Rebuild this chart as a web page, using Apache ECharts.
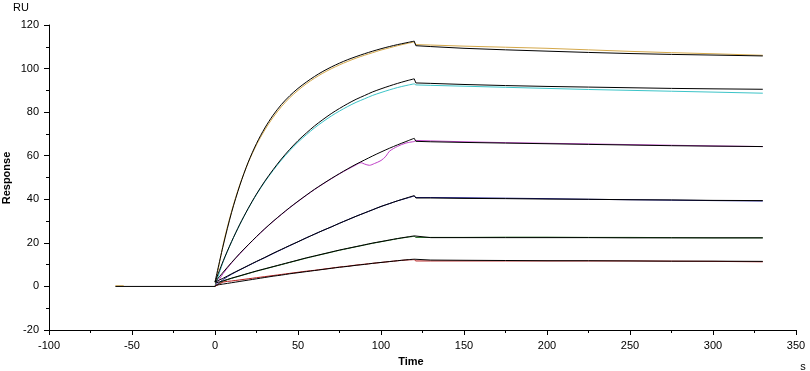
<!DOCTYPE html>
<html><head><meta charset="utf-8">
<script src="https://cdn.jsdelivr.net/npm/echarts@6/dist/echarts.min.js"></script>
<style>html,body{margin:0;padding:0;background:#fff}#c{width:810px;height:371px}</style>
</head><body><div id="c"></div>
<script>
// Axis ticks
const xTicks = [-100, -50, 0, 50, 100, 150, 200, 250, 300, 350];
const yTicks = [-20, 0, 20, 40, 60, 80, 100, 120];

// Baseline (s, RU)
const baseT = [-60, 0];
const baseV = [0, 0];
const baseYellowT = [-60, -55];
const baseYellowV = [0.3, 0.3];

// Association phase times (s)
const tA = [0, 5, 10, 15, 20, 25, 30, 35, 40, 45, 50, 55, 60, 65, 70, 75, 80, 85, 90, 95, 100, 105, 110, 115, 120];
// Dissociation phase times (s)
const tD = [121, 130, 150, 175, 200, 225, 250, 275, 300, 330];

// Curve 1 (gold)
const c1DataA = [0, 19.5, 34.5, 46.8, 56.8, 65, 71.8, 77.6, 82.5, 86.6, 90, 93, 95.6, 97.9, 99.9, 101.7, 103.3, 104.8, 106.1, 107.3, 108.5, 109.5, 110.5, 111.4, 112.2];
const c1FitA  = [2, 19, 34, 46.5, 57, 65.6, 72.7, 78.6, 83.5, 87.5, 90.9, 93.8, 96.4, 98.7, 100.7, 102.5, 104.1, 105.5, 106.8, 108, 109.1, 110.1, 111, 111.8, 112.6];
const c1DataD = [111, 110.8, 110.3, 109.8, 109.3, 108.6, 107.9, 107.3, 106.8, 106.1];
const c1FitD  = [110.5, 110.1, 109.3, 108.6, 108, 107.4, 106.9, 106.5, 106.2, 105.8];

// Curve 2 (cyan)
const c2DataA = [0, 11.5, 20.5, 28.5, 35.7, 42.2, 48, 53.2, 58, 62.3, 66.2, 69.6, 72.8, 75.6, 78.2, 80.5, 82.6, 84.5, 86.1, 87.7, 89, 90.2, 91.3, 92.2, 93];
const c2FitA  = [2, 11.8, 20.6, 28.6, 35.8, 42.4, 48.3, 53.6, 58.5, 62.9, 66.9, 70.4, 73.7, 76.6, 79.3, 81.7, 83.9, 85.9, 87.6, 89.3, 90.7, 92, 93.2, 94.3, 95.3];
const c2DataD = [92.5, 92.3, 91.9, 91.4, 90.9, 90.4, 90, 89.6, 89.2, 88.7];
const c2FitD  = [93.4, 93.2, 92.7, 92.2, 91.8, 91.5, 91.2, 90.9, 90.7, 90.5];

// Curve 3 (magenta) - data has its own time points
const c3DataT = [0, 5, 10, 15, 20, 25, 30, 35, 40, 45, 50, 55, 60, 65, 70, 75, 80, 85, 88, 90, 93, 96, 100, 103, 105, 110, 115, 120];
const c3DataA = [0, 6, 10.8, 15, 19, 22.8, 26.4, 29.8, 33, 36.1, 39, 41.8, 44.5, 47, 49.4, 51.7, 53.8, 55.8, 56.8, 56.2, 55.6, 56.4, 57.8, 59.8, 62, 64.3, 65.8, 66.5];
const c3FitA  = [2, 6.6, 11, 15.2, 19.1, 22.9, 26.5, 29.9, 33.1, 36.2, 39.1, 41.9, 44.6, 47.1, 49.5, 51.8, 54, 56.1, 58, 59.9, 61.7, 63.4, 65, 66.5, 68];
const c3DataD = [67, 66.8, 66.4, 66, 65.7, 65.4, 65.1, 64.8, 64.5, 64.2];
const c3FitD  = [66.6, 66.4, 66.1, 65.8, 65.5, 65.2, 64.9, 64.6, 64.4, 64.2];

// Curve 4 (navy)
const c4DataA = [0, 3.2, 5.6, 7.6, 9.5, 11.4, 13.2, 15.1, 16.9, 18.7, 20.5, 22.3, 24, 25.7, 27.3, 29, 30.6, 32.2, 33.7, 35.2, 36.7, 38, 39.3, 40.4, 41.5];
const c4FitA  = [2, 3.8, 5.8, 7.7, 9.6, 11.5, 13.3, 15.2, 17, 18.8, 20.5, 22.3, 24, 25.7, 27.3, 29, 30.6, 32.2, 33.7, 35.2, 36.7, 38, 39.3, 40.5, 41.7];
const c4DataD = [40.8, 40.8, 40.7, 40.5, 40.3, 40, 39.8, 39.6, 39.4, 39.2];
const c4FitD  = [40.6, 40.6, 40.4, 40.3, 40.1, 40, 39.8, 39.7, 39.5, 39.4];

// Curve 5 (green)
const c5DataA = [0, 2.4, 3.7, 4.8, 5.9, 7, 8, 9, 10, 11, 12, 13, 13.9, 14.8, 15.7, 16.6, 17.4, 18.2, 19, 19.8, 20.5, 21.2, 21.9, 22.5, 23];
const c5FitA  = [1.5, 2.6, 3.8, 4.9, 6, 7.1, 8.1, 9.1, 10.1, 11.1, 12.1, 13.1, 14, 14.9, 15.8, 16.7, 17.5, 18.3, 19.1, 19.9, 20.6, 21.3, 22, 22.6, 23.2];
const c5DataD = [22.5, 22.5, 22.5, 22.6, 22.6, 22.5, 22.5, 22.4, 22.3, 22.3];
const c5FitD  = [22.4, 22.4, 22.4, 22.4, 22.4, 22.4, 22.3, 22.3, 22.3, 22.3];

// Curve 6 (red)
const c6DataA = [0, 2, 2.5, 3, 3.5, 4, 4.5, 5, 5.5, 6, 6.5, 7, 7.4, 7.9, 8.4, 8.9, 9.3, 9.8, 10.2, 10.6, 11, 11.4, 11.8, 12.1, 12.3];
const c6FitA  = [0.5, 1.1, 1.7, 2.3, 2.9, 3.5, 4.1, 4.7, 5.2, 5.8, 6.3, 6.8, 7.3, 7.8, 8.3, 8.8, 9.2, 9.7, 10.1, 10.6, 11, 11.4, 11.8, 12.2, 12.5];
const c6DataD = [11.7, 11.7, 11.7, 11.7, 11.7, 11.7, 11.7, 11.6, 11.5, 11.3];
const c6FitD  = [12.1, 12.1, 12, 11.9, 11.8, 11.8, 11.7, 11.6, 11.6, 11.5];

const colors = ['#D4A84A', '#3CC4C8', '#C040C8', '#1A1A8C', '#1E6B1E', '#B41A1A'];

function pairs(t, v) { return t.map((x, i) => [x, v[i]]); }

const curves = [
  {color: colors[0], dA: pairs(tA, c1DataA), fA: pairs(tA, c1FitA), dD: pairs(tD, c1DataD), fD: pairs(tD, c1FitD)},
  {color: colors[1], dA: pairs(tA, c2DataA), fA: pairs(tA, c2FitA), dD: pairs(tD, c2DataD), fD: pairs(tD, c2FitD)},
  {color: colors[2], dA: pairs(c3DataT, c3DataA), fA: pairs(tA, c3FitA), dD: pairs(tD, c3DataD), fD: pairs(tD, c3FitD)},
  {color: colors[3], dA: pairs(tA, c4DataA), fA: pairs(tA, c4FitA), dD: pairs(tD, c4DataD), fD: pairs(tD, c4FitD)},
  {color: colors[4], dA: pairs(tA, c5DataA), fA: pairs(tA, c5FitA), dD: pairs(tD, c5DataD), fD: pairs(tD, c5FitD)},
  {color: colors[5], dA: pairs(tA, c6DataA), fA: pairs(tA, c6FitA), dD: pairs(tD, c6DataD), fD: pairs(tD, c6FitD)}
];

function line(data, color, smooth) {
  return {type: 'line', data: data, symbol: 'none', smooth: smooth ? 0.3 : false,
    lineStyle: {color: color, width: 1}, silent: true, z: 2};
}

const series = [];
curves.forEach(c => {
  series.push(line(c.dA, c.color, true));
  series.push(line(c.dD, c.color, false));
});
series.push(line(pairs(baseYellowT, baseYellowV), colors[0], false));
series.push(line(pairs(baseT, baseV), '#000', false));
curves.forEach(c => {
  series.push(Object.assign(line(c.fA, '#000', true), {z: 3}));
  series.push(Object.assign(line([c.fA[c.fA.length - 1]].concat(c.fD), '#000', false), {z: 3}));
});
// connect data association end to dissociation start
curves.forEach(c => {
  series.push(line([c.dA[c.dA.length - 1], c.dD[0]], c.color, false));
});

const font = 'Liberation Sans, Arial, sans-serif';
const chart = echarts.init(document.getElementById('c'), null, {renderer: 'canvas'});
chart.setOption({
  animation: false,
  backgroundColor: '#fff',
  grid: {left: 49, right: 14, top: 25, bottom: 41, containLabel: false},
  xAxis: {
    type: 'value', min: xTicks[0], max: xTicks[xTicks.length - 1], interval: 50,
    axisLine: {show: true, onZero: false, lineStyle: {color: '#000', width: 1}},
    axisTick: {show: true, inside: false, length: 5, lineStyle: {color: '#000'}},
    minorTick: {show: true, splitNumber: 2, length: 3, lineStyle: {color: '#000'}},
    splitLine: {show: false},
    axisLabel: {color: '#000', fontFamily: font, fontSize: 11, margin: 10}
  },
  yAxis: {
    type: 'value', min: yTicks[0], max: yTicks[yTicks.length - 1], interval: 20,
    axisLine: {show: true, onZero: false, lineStyle: {color: '#000', width: 1}},
    axisTick: {show: true, inside: false, length: 5, lineStyle: {color: '#000'}},
    minorTick: {show: true, splitNumber: 2, length: 3, lineStyle: {color: '#000'}},
    splitLine: {show: false},
    axisLabel: {color: '#000', fontFamily: font, fontSize: 11, margin: 10}
  },
  graphic: [
    {type: 'text', left: 13, top: 2, style: {text: 'RU', fill: '#000', font: '11px ' + font}},
    {type: 'text', x: 7, y: 178, rotation: Math.PI / 2, style: {text: 'Response', fill: '#000', font: 'bold 11px ' + font, textAlign: 'center', textVerticalAlign: 'middle'}},
    {type: 'text', x: 411, y: 362, style: {text: 'Time', fill: '#000', font: 'bold 11px ' + font, textAlign: 'center', textVerticalAlign: 'middle'}},
    {type: 'text', x: 803, y: 367, style: {text: 's', fill: '#000', font: '11px ' + font, textAlign: 'center', textVerticalAlign: 'middle'}}
  ],
  series: series
});
</script>
</body></html>
